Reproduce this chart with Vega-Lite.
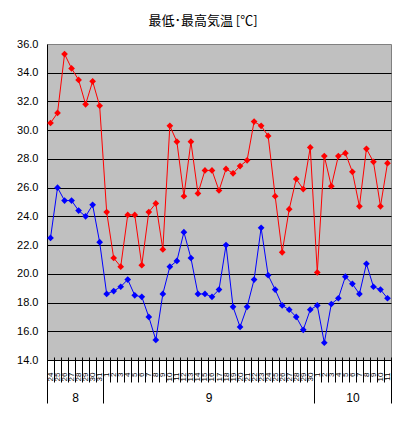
{
  "$schema": "https://vega.github.io/schema/vega-lite/v6.json",
  "autosize": {"type": "none"},
  "padding": {"left": 47, "top": 44, "right": 15, "bottom": 62},
  "width": 344,
  "height": 316,
  "background": "white",
  "title": {
    "text": "最低･最高気温 [℃]",
    "dx": -16,
    "offset": -3,
    "baseline": "bottom",
    "font": "Noto Sans CJK JP",
    "fontSize": 13,
    "fontWeight": "normal",
    "color": "black"
  },
  "datasets": {
    "temps": [
      {"date": "8/24", "max": 30.5, "min": 22.5},
      {"date": "8/25", "max": 31.2, "min": 26.0},
      {"date": "8/26", "max": 35.3, "min": 25.1},
      {"date": "8/27", "max": 34.3, "min": 25.1},
      {"date": "8/28", "max": 33.5, "min": 24.4},
      {"date": "8/29", "max": 31.8, "min": 24.0},
      {"date": "8/30", "max": 33.4, "min": 24.8},
      {"date": "8/31", "max": 31.7, "min": 22.2},
      {"date": "9/1", "max": 24.3, "min": 18.6},
      {"date": "9/2", "max": 21.1, "min": 18.8},
      {"date": "9/3", "max": 20.5, "min": 19.1},
      {"date": "9/4", "max": 24.1, "min": 19.6},
      {"date": "9/5", "max": 24.1, "min": 18.5},
      {"date": "9/6", "max": 20.6, "min": 18.4},
      {"date": "9/7", "max": 24.3, "min": 17.0},
      {"date": "9/8", "max": 24.9, "min": 15.4},
      {"date": "9/9", "max": 21.7, "min": 18.6},
      {"date": "9/10", "max": 30.3, "min": 20.5},
      {"date": "9/11", "max": 29.2, "min": 20.9},
      {"date": "9/12", "max": 25.4, "min": 22.9},
      {"date": "9/13", "max": 29.2, "min": 21.1},
      {"date": "9/14", "max": 25.6, "min": 18.6},
      {"date": "9/15", "max": 27.2, "min": 18.6},
      {"date": "9/16", "max": 27.2, "min": 18.4},
      {"date": "9/17", "max": 25.8, "min": 18.9},
      {"date": "9/18", "max": 27.3, "min": 22.0},
      {"date": "9/19", "max": 27.0, "min": 17.7},
      {"date": "9/20", "max": 27.5, "min": 16.3},
      {"date": "9/21", "max": 27.9, "min": 17.7},
      {"date": "9/22", "max": 30.6, "min": 19.6},
      {"date": "9/23", "max": 30.3, "min": 23.2},
      {"date": "9/24", "max": 29.6, "min": 19.9},
      {"date": "9/25", "max": 25.4, "min": 18.9},
      {"date": "9/26", "max": 21.5, "min": 17.8},
      {"date": "9/27", "max": 24.5, "min": 17.5},
      {"date": "9/28", "max": 26.6, "min": 17.0},
      {"date": "9/29", "max": 25.9, "min": 16.1},
      {"date": "9/30", "max": 28.8, "min": 17.5},
      {"date": "10/1", "max": 20.1, "min": 17.8},
      {"date": "10/2", "max": 28.2, "min": 15.2},
      {"date": "10/3", "max": 26.1, "min": 17.9},
      {"date": "10/4", "max": 28.2, "min": 18.3},
      {"date": "10/5", "max": 28.4, "min": 19.8},
      {"date": "10/6", "max": 27.1, "min": 19.3},
      {"date": "10/7", "max": 24.7, "min": 18.6},
      {"date": "10/8", "max": 28.7, "min": 20.7},
      {"date": "10/9", "max": 27.8, "min": 19.1},
      {"date": "10/10", "max": 24.7, "min": 18.9},
      {"date": "10/11", "max": 27.7, "min": 18.3}
    ],
    "months": [
      {"month": "8", "start": 0, "mid": 4},
      {"month": "9", "start": 8, "mid": 23},
      {"month": "10", "start": 38, "mid": 43.5}
    ]
  },
  "layer": [
    {
      "data": {"name": "temps"},
      "encoding": {
        "x": {
          "field": "date",
          "type": "ordinal",
          "sort": null,
          "scale": {"type": "band", "paddingInner": 0, "paddingOuter": 0},
          "axis": {
            "orient": "bottom",
            "title": null,
            "domain": false,
            "grid": false,
            "tickBand": "extent",
            "tickSize": 25,
            "tickColor": "black",
            "offset": -3,
            "labelAngle": -90,
            "labelPadding": -10,
            "labelFont": "Liberation Sans",
            "labelFontSize": 8,
            "labelColor": "black",
            "labelOverlap": false,
            "labelExpr": "split(datum.label, '/')[1]"
          }
        }
      },
      "layer": [
        {
          "mark": {"type": "line", "color": "#FF0000", "strokeWidth": 1},
          "encoding": {
            "y": {
              "field": "max",
              "type": "quantitative",
              "title": null,
              "scale": {"domain": [14, 36], "nice": false, "zero": false},
              "axis": {
                "values": [14, 16, 18, 20, 22, 24, 26, 28, 30, 32, 34, 36],
                "tickCount": 12,
                "format": ".1f",
                "ticks": false,
                "domainColor": "black",
                "labelPadding": 9,
                "labelOverlap": false,
                "labelFlush": false,
                "labelFont": "Liberation Sans",
                "labelFontSize": 11,
                "labelColor": "black",
                "grid": true,
                "gridColor": "black",
                "gridOpacity": {"condition": {"test": "datum.value >= 36", "value": 0}, "value": 1}
              }
            }
          }
        },
        {
          "mark": {"type": "point", "shape": "diamond", "filled": true, "color": "#FF0000", "size": 45, "opacity": 1},
          "encoding": {"y": {"field": "max", "type": "quantitative", "title": null}}
        },
        {
          "mark": {"type": "line", "color": "#0000FF", "strokeWidth": 1},
          "encoding": {"y": {"field": "min", "type": "quantitative", "title": null}}
        },
        {
          "mark": {"type": "point", "shape": "diamond", "filled": true, "color": "#0000FF", "size": 45, "opacity": 1},
          "encoding": {"y": {"field": "min", "type": "quantitative", "title": null}}
        }
      ]
    },
    {
      "data": {"name": "months"},
      "mark": {"type": "rule", "strokeOpacity": 0},
      "encoding": {
        "x": {
          "field": "start",
          "type": "quantitative",
          "scale": {"domain": [0, 49], "nice": false, "zero": false},
          "axis": {
            "orient": "bottom",
            "title": null,
            "values": [0, 8, 38, 49],
            "tickCount": 4,
            "grid": false,
            "labels": false,
            "tickSize": 43,
            "tickColor": "black",
            "domain": true,
            "domainColor": "black"
          }
        }
      }
    },
    {
      "data": {"name": "months"},
      "mark": {"type": "rule", "strokeOpacity": 0},
      "encoding": {
        "x": {
          "field": "mid",
          "type": "quantitative",
          "scale": {"domain": [0, 49], "nice": false, "zero": false},
          "axis": {
            "orient": "bottom",
            "title": null,
            "values": [4, 23, 43.5],
            "tickCount": 3,
            "grid": false,
            "ticks": false,
            "tickSize": 0,
            "domain": false,
            "labelFlush": false,
            "labelPadding": 37,
            "labelBaseline": "middle",
            "labelFont": "Liberation Sans",
            "labelFontSize": 12,
            "labelColor": "black",
            "labelExpr": "datum.value < 10 ? '8' : datum.value < 30 ? '9' : '10'"
          }
        }
      }
    }
  ],
  "resolve": {"scale": {"x": "independent"}},
  "config": {
    "view": {"fill": "#C0C0C0", "stroke": "#808080"}
  }
}
